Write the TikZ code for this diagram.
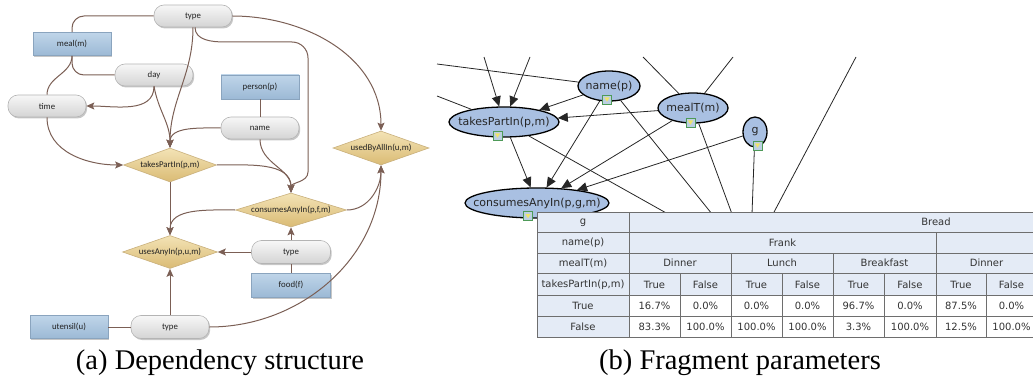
\documentclass[tikz,border=0pt]{standalone}
\usepackage{fontspec}
\setmainfont{Liberation Serif}
\newfontfamily\calfont{Carlito}
\newfontfamily\dvfont{DejaVu Sans}
\usetikzlibrary{shapes.geometric,arrows.meta,shadows}
\definecolor{edgebrown}{HTML}{7B5F55}
\definecolor{pilltop}{HTML}{F7F7F7}
\definecolor{pillbot}{HTML}{D4D4D4}
\definecolor{pillline}{HTML}{B4B4B4}
\definecolor{enttop}{HTML}{BFD5E9}
\definecolor{entbot}{HTML}{9CB9D5}
\definecolor{entline}{HTML}{8AA4BE}
\definecolor{predtop}{HTML}{F3E3B6}
\definecolor{predbot}{HTML}{DABB74}
\definecolor{predline}{HTML}{C9B07C}
\definecolor{bnblue}{HTML}{A9C0E2}
\definecolor{hdrfill}{HTML}{E4EBF6}
\definecolor{gridline}{HTML}{6E6E6E}
\definecolor{icongreen}{HTML}{4E9A58}
\definecolor{iconfill}{HTML}{BCD0E2}
\definecolor{iconyellow}{HTML}{EFE46A}
\definecolor{txtgray}{HTML}{222222}
\tikzset{
  sh/.style={drop shadow={shadow xshift=1.2pt,shadow yshift=-1.5pt,opacity=0.22,fill=black}},
  lfont/.style={font=\calfont\fontsize{8.8}{10}\selectfont, text=txtgray},
  attr/.style={rectangle, rounded corners=10pt, draw=pillline, line width=0.6pt,
    top color=pilltop, bottom color=pillbot, minimum width=78pt, minimum height=22pt,
    inner sep=0pt, lfont, sh},
  ent/.style={rectangle, draw=entline, line width=0.6pt, top color=enttop, bottom color=entbot,
    minimum width=78pt, minimum height=23pt, inner sep=0pt, lfont, sh},
  pred/.style={diamond, aspect=3.4, draw=predline, line width=0.6pt, top color=predtop,
    bottom color=predbot, minimum height=34pt, inner sep=0pt, lfont},
  dep/.style={draw=edgebrown, line width=1pt, -{Stealth[length=8pt,width=7pt,inset=1.5pt]}},
  lnk/.style={draw=edgebrown, line width=1pt},
  bn/.style={ellipse, draw=black, line width=1.3pt, fill=bnblue, minimum height=30pt, inner sep=0pt},
  bnlab/.style={font=\dvfont\fontsize{11}{13}\selectfont, text=black!85, inner sep=0pt},
  icon/.style={rectangle, draw=icongreen, line width=0.7pt, fill=iconfill, minimum size=9pt, inner sep=0pt,
    path picture={\fill[iconyellow] ([xshift=-2.6pt,yshift=2pt]path picture bounding box.center)
      -- ++(5.2pt,0) -- ++(-2.6pt,-4.2pt) -- cycle;}},
  barr/.style={draw=black!85, line width=0.8pt, -{Triangle[length=10pt,width=9pt]}},
  blin/.style={draw=black!85, line width=0.8pt},
  tfont/.style={font=\dvfont\fontsize{10}{12}\selectfont, text=black!80, inner sep=0pt},
  capfont/.style={font=\fontsize{28.5}{32}\selectfont, inner sep=0pt}
}
\begin{document}
\begin{tikzpicture}[x=1pt,y=1pt]
\useasboundingbox (0,0) rectangle (1033,-385);
\begin{scope}
\clip (0,0) rectangle (1033,-385);
% ---------------- (a) dependency structure ----------------
\node[attr] (tt) at (193,-16) {type};
\node[ent] (meal) at (72,-44) {meal(m)};
\node[attr] (day) at (154,-75) {day};
\node[attr] (time) at (47,-106) {time};
\node[pred, minimum width=93pt] (tp) at (170,-165) {takesPartIn(p,m)};
\node[ent, minimum height=24pt] (person) at (260,-87) {person(p)};
\node[attr] (name) at (260,-128) {name};
\node[pred, minimum width=96pt] (ub) at (381,-148) {usedByAllIn(u,m)};
\node[pred, minimum width=111pt] (ca) at (291,-210) {consumesAnyIn(p,f,m)};
\node[pred, minimum width=95pt, minimum height=33pt] (ua) at (170,-252) {usesAnyIn(p,u,m)};
\node[attr, minimum width=79pt, minimum height=23pt] (tf) at (291,-252) {type};
\node[ent, minimum width=79pt, minimum height=24pt] (food) at (291,-285) {food(f)};
\node[ent] (ut) at (69,-327) {utensil(u)};
\node[attr, minimum height=23pt] (tb) at (170,-327) {type};

\draw[lnk, rounded corners=12pt] (tt.west) -| (meal.north);
\draw[lnk, rounded corners=12pt] (meal.south) |- (day.west);
\draw[lnk] (meal.south) to[out=-90,in=90] (time.north);
\draw[dep] (day.south) to[out=-90,in=0] (time.east);
\draw[dep] (day.south) to[out=-80,in=90] (tp.north);
\draw[dep] (tt.south) to[out=-90,in=90] (tp.north);
\draw[dep] (name.west) to[out=180,in=90] (tp.north);
\draw[dep] (time.south) to[out=-90,in=180] (tp.west);
\draw[lnk] (person.south) -- (name.north);
\draw[dep] ([xshift=2pt]tt.south) to[out=-90,in=180] (225,-42) -- (292,-42)
  to[out=0,in=90] (308,-58) -- (308,-172) to[out=-90,in=90] (ca.north);
\draw[dep] (tt.east) to[out=0,in=90] (ub.north);
\draw[dep] (name.south) to[out=-90,in=90] (ca.north);
\draw[dep] (tp.east) to[out=0,in=90] (ca.north);
\draw[dep] (tp.south) -- (ua.north);
\draw[dep] (ca.west) to[out=180,in=90] (ua.north);
\draw[dep] (ca.east) to[out=0,in=-90] (ub.south);
\draw[dep] (tf.north) -- (ca.south);
\draw[dep] (tf.west) -- (ua.east);
\draw[lnk] (food.north) -- (tf.south);
\draw[lnk] (ut.east) -- (tb.west);
\draw[dep] (tb.north) -- (ua.south);
\draw[dep] (tb.east) to[out=0,in=-90] (ub.south);

% ---------------- (b) fragment parameters ----------------
\node[bn, minimum width=62pt, label={[bnlab]center:name(p)}] (np) at (609,-86) {};
\node[bn, minimum width=110pt, label={[bnlab]center:takesPartIn(p,m)}] (tk) at (504,-122) {};
\node[bn, minimum width=70pt, label={[bnlab]center:mealT(m)}] (mt) at (693,-108) {};
\node[bn, minimum width=24pt, label={[bnlab]center:g}] (g) at (755,-132) {};
\node[bn, minimum width=144pt, label={[bnlab]center:consumesAnyIn(p,g,m)}] (cs) at (537,-203) {};

\coordinate (o1) at (437,-64);
\coordinate (o2) at (437,-96);
\coordinate (o3) at (643,-57);
\coordinate (o4) at (733,-57);
\coordinate (o5) at (856,-57);
\coordinate (i1) at (484,-57);
\coordinate (i2) at (530,-57);
\coordinate (t1) at (668,-214);
\coordinate (t2) at (712,-214);
\coordinate (t3) at (732,-214);
\coordinate (t4) at (752,-214);
\coordinate (t5) at (773,-214);

\draw[blin] (o1) -- (np);
\draw[blin] (o2) -- (tk);
\draw[blin] (o3) -- (mt);
\draw[blin] (o4) -- (mt);
\draw[blin] (o5) -- (t5);
\draw[barr] (i1) -- (tk);
\draw[barr] (i2) -- (tk);
\draw[barr] (np) -- (tk);
\draw[barr] (mt) -- (tk);
\draw[barr] (tk) -- (cs);
\draw[barr] (np) -- (cs);
\draw[barr] (mt) -- (cs);
\draw[barr] (g) -- (cs);
\draw[blin] (tk) -- (t1);
\draw[blin] (np) -- (t2);
\draw[blin] (mt) -- (t3);
\draw[blin] (g) -- (t4);

\node[icon] (ic1) at (607,-99.5) {};
\node[icon] (ic2) at (497.5,-135.5) {};
\node[icon] (ic3) at (690.5,-122.5) {};
\node[icon] (ic4) at (757.5,-145.5) {};
\node[icon] (ic5) at (528,-216) {};

% table
\fill[hdrfill] (537,-212) rectangle (1040,-295.5);
\fill[hdrfill] (537,-295.5) rectangle (629,-337.5);
\fill[white] (629,-295.5) rectangle (1040,-337.5);
\begin{scope}[draw=gridline, line width=0.8pt]
\foreach \yy in {212,232.5,253,273.5,295.5,316.5,337.5}
  \draw (537,-\yy) -- (1040,-\yy);
\draw (537,-212) -- (537,-337.5);
\draw (629,-212) -- (629,-337.5);
\draw (936,-232.5) -- (936,-337.5);
\foreach \xx in {731,833}
  \draw (\xx,-253) -- (\xx,-337.5);
\foreach \xx in {680,782,884,986}
  \draw (\xx,-273.5) -- (\xx,-337.5);
\end{scope}

\node[tfont] (r1) at (583,-222.25) {g};
\node[tfont] (r2) at (583,-242.75) {name(p)};
\node[tfont] (r3) at (583,-263.25) {mealT(m)};
\node[tfont] (r4) at (583,-284.5) {takesPartIn(p,m)};
\node[tfont] (r5) at (583,-306) {True};
\node[tfont] (r6) at (583,-327) {False};
\node[tfont] (bread) at (936,-222.25) {Bread};
\node[tfont] (frank) at (782.5,-242.75) {Frank};
\node[tfont] (m1) at (680,-263.25) {Dinner};
\node[tfont] (m2) at (782,-263.25) {Lunch};
\node[tfont] (m3) at (884.5,-263.25) {Breakfast};
\node[tfont] (m4) at (986.5,-263.25) {Dinner};
\foreach \xc/\ta/\va/\vb in {654.5/True/16.7\%/83.3\%, 705.5/False/0.0\%/100.0\%,
  756.5/True/0.0\%/100.0\%, 807.5/False/0.0\%/100.0\%, 858.5/True/96.7\%/3.3\%,
  910/False/0.0\%/100.0\%, 961/True/87.5\%/12.5\%, 1011.5/False/0.0\%/100.0\%} {
  \node[tfont] at (\xc,-284.5) {\ta};
  \node[tfont] at (\xc,-306) {\va};
  \node[tfont] at (\xc,-327) {\vb};
}

% captions
\node[capfont] (capa) at (220,-363) {(a) Dependency structure};
\node[capfont] (capb) at (740,-363) {(b) Fragment parameters};
\end{scope}
\end{tikzpicture}
\end{document}
